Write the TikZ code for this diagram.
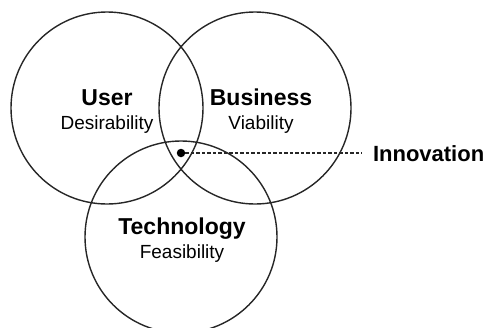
\documentclass[tikz,border=0pt]{standalone}
\usepackage{fontspec}
\setmainfont{Liberation Sans}
\usepackage{tikz}
\usetikzlibrary{positioning,calc}
\tikzset{
  ring/.style={draw=black!85,line width=1.4pt,circle,minimum size=192pt,inner sep=0pt},
  ttl/.style={font=\fontsize{23}{25}\selectfont\bfseries,anchor=base,inner sep=0pt},
  sub/.style={font=\fontsize{19}{21}\selectfont,anchor=base,inner sep=0pt},
}

\begin{document}
\begin{tikzpicture}[x=1pt,y=-1pt,every node/.style={outer sep=0pt}]
\useasboundingbox (0,0) rectangle (486,327);

% name/centre x/centre y/title x/title/subtitle
\foreach \n/\cx/\cy/\tx/\t/\s in {%
  user/107/108/107/User/Desirability,
  biz/255/108/261/Business/Viability,
  tech/181/237/182/Technology/Feasibility}
{
  \node[ring] (\n) at (\cx,\cy) {};
  \node[ttl] (\n-t) at (\tx,{\cy-3}) {\t};
  \node[sub] (\n-s) at (\tx,{\cy+21}) {\s};
}

% innovation spot
\node[circle,fill=black,minimum size=8.5pt,inner sep=0pt] (dot) at (181,153) {};
\node[font=\fontsize{22}{24}\selectfont\bfseries,anchor=base west,
      inner xsep=11pt,inner ysep=0pt] (innov) at (362,161) {Innovation};
\draw[black!85,line width=1.2pt,dash pattern=on 3.5pt off 2pt] (dot) -- (dot -| innov.west);
\end{tikzpicture}
\end{document}
